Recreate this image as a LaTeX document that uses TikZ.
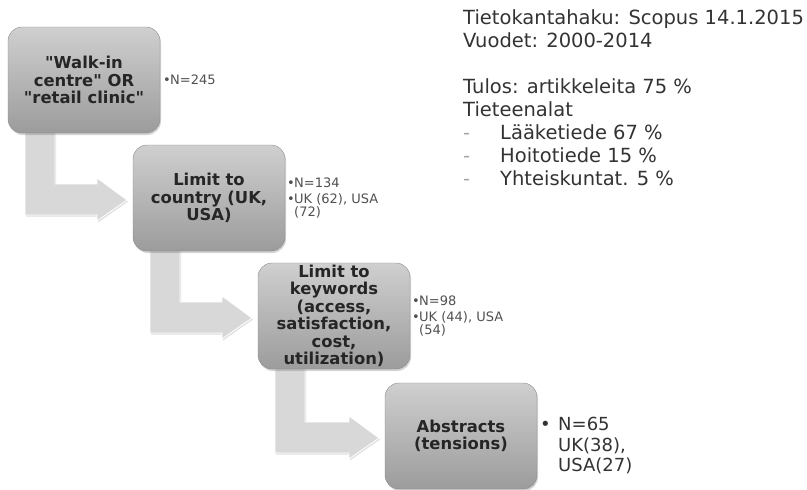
\documentclass[tikz,border=0pt]{standalone}
\usepackage{fontspec}
\setmainfont{DejaVu Sans}
\newfontfamily\plaindejavu{DejaVu Sans}
\usepackage{xcolor}
\usepackage{tikz}
\usetikzlibrary{positioning,calc,shadows,backgrounds}

\definecolor{boxtop}{HTML}{CFCFCF}
\definecolor{boxbottom}{HTML}{9C9C9C}
\definecolor{boxline}{HTML}{8A8A8A}
\definecolor{arrowfill}{HTML}{D8D8D8}
\definecolor{notegray}{HTML}{505050}
\definecolor{textgray}{HTML}{333333}

\newcommand{\bul}{\makebox[7pt][l]{\textbullet}}
\newcommand{\bulgap}{\hspace*{7pt}}
\newcommand{\dashitem}{\makebox[37pt][l]{\textcolor{gray!70}{-}}}

% bent arrow from the bottom of one stage to the left side of the next
\newcommand{\bentarrow}[2]{%
  \draw[flow] let \p1=(#1.south west), \p2=(#2.west) in
    (\x1+17pt,\y1+5pt) -- (\x1+47pt,\y1+5pt) -- (\x1+47pt,\y2+14pt)
    -- (\x2-36pt,\y2+14pt) -- (\x2-36pt,\y2+20pt) -- (\x2-6pt,\y2-2pt)
    -- (\x2-36pt,\y2-23pt) -- (\x2-36pt,\y2-17pt) -- (\x1+17pt,\y2-17pt) -- cycle;}

\begin{document}
\begin{tikzpicture}[x=1pt, y=-1pt,
    stage/.style={rectangle, draw=boxline, top color=boxtop, bottom color=boxbottom,
      rounded corners=14pt, minimum width=152pt, minimum height=106pt, align=center,
      inner sep=0pt, outer sep=0pt, text=black!85,
      font=\plaindejavu\fontsize{16.4}{17.5}\selectfont\bfseries,
      drop shadow={opacity=0.35, shadow xshift=1pt, shadow yshift=-2pt}},
    note/.style={align=left, inner sep=0pt, text=notegray,
      font=\fontsize{13}{12.5}\selectfont},
    flow/.style={fill=arrowfill, draw=white, line width=0.8pt,
      drop shadow={opacity=0.25, shadow xshift=1pt, shadow yshift=-1.5pt}}]

    \useasboundingbox (0,0) rectangle (807,490);

    % Stages
    \node[stage] (walkin) at (84,80) {"Walk-in\\centre" OR\\"retail clinic"};
    \node[stage, below right=12pt and -27pt of walkin] (country) {Limit to\\country (UK,\\USA)};
    \node[stage, below right=12pt and -27pt of country] (keywords) {Limit to\\keywords\\(access,\\satisfaction,\\cost,\\utilization)};
    \node[stage, below right=14pt and -25pt of keywords] (abstracts) {Abstracts\\(tensions)};

    % Counts
    \node[note, right=3pt of walkin] (n245) {\bul N=245};
    \node[note, right=2pt of country] (n134) {\bul N=134\\[3.5pt]\bul UK (62), USA\\\bulgap(72)};
    \node[note, right=2pt of keywords] (n98) {\bul N=98\\[3.5pt]\bul UK (44), USA\\\bulgap(54)};
    \node[note, right=3pt of abstracts, yshift=-10pt, text=textgray,
      font=\fontsize{18}{20.5}\selectfont] (n65) {\makebox[18pt][l]{\textbullet}N=65\\\hspace*{18pt}UK(38),\\\hspace*{18pt}USA(27)};

    % Search info
    \node[anchor=north west, align=left, inner sep=0pt, text=textgray,
      font=\fontsize{19.5}{23}\selectfont] (search) at (463,9)
      {Tietokantahaku: Scopus 14.1.2015\\Vuodet: 2000-2014\\[23pt]
       Tulos: artikkeleita 75 \%\\Tieteenalat\\
       \dashitem Lääketiede 67 \%\\\dashitem Hoitotiede 15 \%\\\dashitem Yhteiskuntat. 5 \%};

    % Arrows
    \begin{scope}[on background layer]
      \bentarrow{walkin}{country}
      \bentarrow{country}{keywords}
      \bentarrow{keywords}{abstracts}
    \end{scope}

\end{tikzpicture}
\end{document}
